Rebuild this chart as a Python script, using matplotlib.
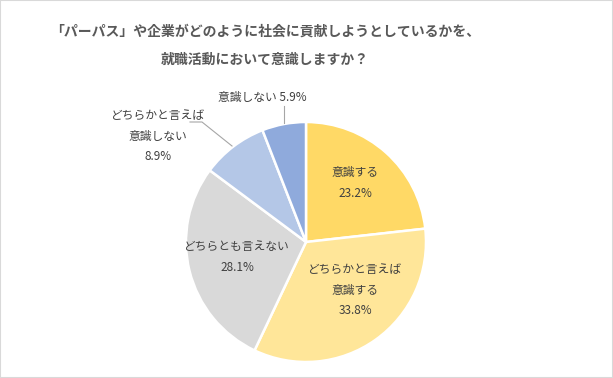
import matplotlib.pyplot as plt
from matplotlib.patches import Rectangle

plt.rcParams['font.family'] = ['Noto Sans CJK JP', 'DejaVu Sans']

# data
labels = ['意識する', 'どちらかと言えば\n意識する', 'どちらとも言えない',
          'どちらかと言えば\n意識しない', '意識しない']
values = [23.2, 33.8, 28.1, 8.9, 5.9]
colors = ['#FFD966', '#FFE699', '#D9D9D9', '#B4C7E7', '#8FAADC']
title = '「パーパス」や企業がどのように社会に貢献しようとしているかを、\n就職活動において意識しますか？'

W, H = 613, 378
fig = plt.figure(figsize=(W / 100, H / 100), dpi=100)
ax = fig.add_axes([0, 0, 1, 1])

def Y(y):
    # image pixel row -> axes coordinate
    return H - y

ax.pie(values, colors=colors, startangle=90, counterclock=False,
       center=(306, Y(242)), radius=120, frame=True,
       wedgeprops=dict(edgecolor='white', linewidth=1.8))
ax.set_xlim(0, W)
ax.set_ylim(0, H)
ax.set_aspect('equal')
ax.axis('off')

txt = dict(ha='center', va='center', fontsize=8.5, color='#404040', linespacing=1.75)
ax.text(355, Y(183), f'{labels[0]}\n{values[0]}%', **txt)
ax.text(355, Y(290), f'{labels[1]}\n{values[1]}%', **txt)
ax.text(237, Y(257), f'{labels[2]}\n{values[2]}%', **txt)
ax.text(158, Y(136), f'{labels[3]}\n{values[3]}%', **txt)
ax.text(262, Y(97), f'{labels[4]} {values[4]}%', **txt)

# leader lines
ax.plot([190, 202, 232], [Y(122), Y(122), Y(146)], color='#A6A6A6', lw=0.8)
ax.plot([284, 284], [Y(106), Y(123)], color='#A6A6A6', lw=0.8)

ax.text(265, Y(46), title, ha='center', va='center', fontsize=10,
        fontweight='bold', color='#595959', linespacing=2.3)

fig.patches.append(Rectangle((0, 0), 1, 1, transform=fig.transFigure,
                             fill=False, edgecolor='#D9D9D9', lw=1.5))
fig.savefig('out.png', dpi=100)
